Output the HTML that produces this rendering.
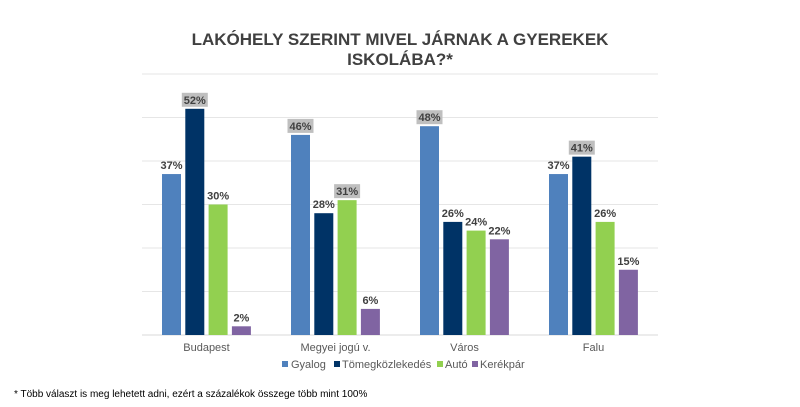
<!DOCTYPE html>
<html><head><meta charset="utf-8"><style>
body{margin:0;background:#fff;font-family:"Liberation Sans",sans-serif;}
svg text{font-family:"Liberation Sans",sans-serif;}
</style></head><body>
<svg width="800" height="402" viewBox="0 0 800 402">
<rect width="800" height="402" fill="#fff"/>
<text x="400" y="45" text-anchor="middle" font-size="17" font-weight="bold" fill="#404040">LAKÓHELY SZERINT MIVEL JÁRNAK A GYEREKEK</text>
<text x="400" y="65" text-anchor="middle" font-size="17" font-weight="bold" fill="#404040">ISKOLÁBA?*</text>
<g id="grid"></g><g id="bars"></g><g id="labels"></g>
<g font-size="11" fill="#595959">
<rect x="282" y="361" width="6" height="6" fill="#4f81bd"/><text x="291" y="368">Gyalog</text>
<rect x="334" y="361" width="6" height="6" fill="#003366"/><text x="342" y="368">Tömegközlekedés</text>
<rect x="437" y="361" width="6" height="6" fill="#92d050"/><text x="445" y="368">Autó</text>
<rect x="472" y="361" width="6" height="6" fill="#8064a2"/><text x="480" y="368">Kerékpár</text>
</g>
<text x="14" y="397" font-size="10" fill="#000">* Több választ is meg lehetett adni, ezért a százalékok összege több mint 100%</text>
</svg>
<script>
const categories=["Budapest","Megyei jogú v.","Város","Falu"];
const gyalog=[37,46,48,37];
const tomeg=[52,28,26,41];
const auto=[30,31,24,26];
const kerekpar=[2,6,22,15];
const hlGyalog=[false,true,true,false];
const hlTomeg=[true,false,false,true];
const hlAuto=[false,true,false,false];
const hlKerekpar=[false,false,false,false];
const ticks=[0,10,20,30,40,50,60];
const NS="http://www.w3.org/2000/svg";
const x0=142,catW=129,y0=335,pxPer=4.35;
const y=v=>y0-v*pxPer;
const series=[gyalog,tomeg,auto,kerekpar];
const highlighted=[hlGyalog,hlTomeg,hlAuto,hlKerekpar];
const colors=["#4f81bd","#003366","#92d050","#8064a2"];
const sNames=["gyalog","tomegkozlekedes","auto","kerekpar"];
function mk(tag,attrs,parent){const e=document.createElementNS(NS,tag);for(const k in attrs)e.setAttribute(k,attrs[k]);parent.appendChild(e);return e;}
const grid=document.getElementById("grid"),bars=document.getElementById("bars"),labels=document.getElementById("labels");
ticks.forEach(t=>{const l=mk("line",{x1:x0,x2:x0+catW*4,y1:y(t),y2:y(t),stroke:t===0?"#d9d9d9":"#e6e6e6","stroke-width":1},grid);

});
categories.forEach((c,i)=>{
const t=mk("text",{x:x0+catW*i+catW/2,y:351,"text-anchor":"middle","font-size":11,fill:"#595959"},labels);t.textContent=c;


series.forEach((s,j)=>{
const bx=x0+catW*i+20+j*23.3,v=s[i];
const r=mk("rect",{x:bx,y:y(v),width:19,height:v*pxPer,fill:colors[j]},bars);


const cx=bx+9.5,ly=y(v)-5;
if(highlighted[j][i]){const b=mk("rect",{x:cx-13,y:ly-11,width:26,height:14,fill:"#bfbfbf"},labels);

}
const lt=mk("text",{x:cx,y:ly,"text-anchor":"middle","font-size":11,"font-weight":"bold",fill:"#404040"},labels);lt.textContent=v+"%";


});});
</script>
</body></html>
